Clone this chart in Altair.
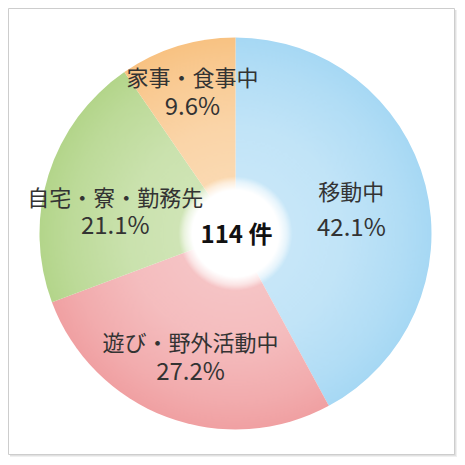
import altair as alt
import pandas as pd

# ---- data ----
cats = ["移動中", "遊び・野外活動中", "自宅・寮・勤務先", "家事・食事中"]
pcts = [42.1, 27.2, 21.1, 9.6]
pct_labels = ["42.1%", "27.2%", "21.1%", "9.6%"]
total_label = "114 件"
colors = ["#a6d8f4", "#f0a0a2", "#b3d58a", "#f8c282"]

df = pd.DataFrame({"cat": cats, "pct": pcts, "plab": pct_labels, "idx": list(range(len(cats)))})
one = pd.DataFrame({"a": [0]})

# ---- layout (styles / positions) ----
W, H = 449, 449
CX, CY = 227.5, 225.5
R = 196
FONT = "Noto Sans CJK JP"
# per slice: label radius, dx, name dy, pct dy
label_layout = {
    "移動中": (118.5, 1, -11.4, 24.2),
    "遊び・野外活動中": (131.1, 1, -12.5, 16.3),
    "自宅・寮・勤務先": (121.5, -4.3, 1.8, 29.6),
    "家事・食事中": (148.4, 1, -13, 15.8),
}

layers = []

# shadow of the frame
for k in range(1, 4):
    layers.append(
        alt.Chart(one).mark_rect(fill="black", opacity=0.06).encode(
            x=alt.value(2), x2=alt.value(446 + k), y=alt.value(2), y2=alt.value(446 + k)
        )
    )

# frame
layers.append(
    alt.Chart(one).mark_rect(fill="white", stroke="#cdcdcd", strokeWidth=1).encode(
        x=alt.value(0.5), x2=alt.value(446.5), y=alt.value(0.5), y2=alt.value(446.5)
    )
)

# pie
pie = alt.Chart(df).mark_arc(radius=R).encode(
    theta=alt.Theta("pct:Q", stack=True),
    order=alt.Order("idx:Q"),
    color=alt.Color("cat:N", scale=alt.Scale(domain=cats, range=colors), legend=None),
    x=alt.value(CX),
    y=alt.value(CY),
)
layers.append(pie)

# soft radial light overlay
light = alt.RadialGradient(
    gradient="radial",
    stops=[
        alt.GradientStop(offset=0, color="rgba(255,255,255,0.45)"),
        alt.GradientStop(offset=0.55, color="rgba(255,255,255,0.30)"),
        alt.GradientStop(offset=0.85, color="rgba(255,255,255,0.12)"),
        alt.GradientStop(offset=1, color="rgba(255,255,255,0)"),
    ],
    x1=0.5, y1=0.5, r1=0, x2=0.5, y2=0.5, r2=0.5,
)
layers.append(
    alt.Chart(one).mark_arc(radius=R, theta=0, theta2=6.2832, fill=light).encode(
        x=alt.value(CX), y=alt.value(CY)
    )
)

# soft white hole
hole = alt.RadialGradient(
    gradient="radial",
    stops=[
        alt.GradientStop(offset=0, color="rgba(255,255,255,1)"),
        alt.GradientStop(offset=0.76, color="rgba(255,255,255,1)"),
        alt.GradientStop(offset=0.9, color="rgba(255,255,255,0.55)"),
        alt.GradientStop(offset=1, color="rgba(255,255,255,0)"),
    ],
    x1=0.5, y1=0.5, r1=0, x2=0.5, y2=0.5, r2=0.5,
)
layers.append(
    alt.Chart(one).mark_arc(radius=57, theta=0, theta2=6.2832, fill=hole).encode(
        x=alt.value(CX), y=alt.value(CY)
    )
)

# labels
for c in cats:
    rad, dx, dy_n, dy_p = label_layout[c]
    base = alt.Chart(df).transform_calculate(
        lab_n=f"datum.cat == '{c}' ? datum.cat : ''",
        lab_p=f"datum.cat == '{c}' ? datum.plab : ''",
    )
    enc = dict(
        theta=alt.Theta("pct:Q", stack=True),
        order=alt.Order("idx:Q"),
        x=alt.value(CX),
        y=alt.value(CY),
    )
    layers.append(
        base.mark_text(radius=rad, dx=dx, dy=dy_n, font=FONT, fontSize=22,
                       color="#333333", align="center", baseline="middle").encode(
            text="lab_n:N", **enc
        )
    )
    layers.append(
        base.mark_text(radius=rad, dx=dx, dy=dy_p, font=FONT, fontSize=24,
                       color="#333333", align="center", baseline="middle").encode(
            text="lab_p:N", **enc
        )
    )

# center total
layers.append(
    alt.Chart(pd.DataFrame({"t": [total_label]})).mark_text(
        font=FONT, fontSize=24, fontWeight="bold", color="#111111",
        align="center", baseline="middle", dx=1, dy=2,
    ).encode(text="t:N", x=alt.value(CX), y=alt.value(CY))
)

chart = alt.layer(*layers).properties(
    width=W, height=H, padding=0, autosize=alt.AutoSizeParams(type="none")
).configure_view(stroke=None)

chart.save("out.html", embed_options={"renderer": "svg", "actions": False})
